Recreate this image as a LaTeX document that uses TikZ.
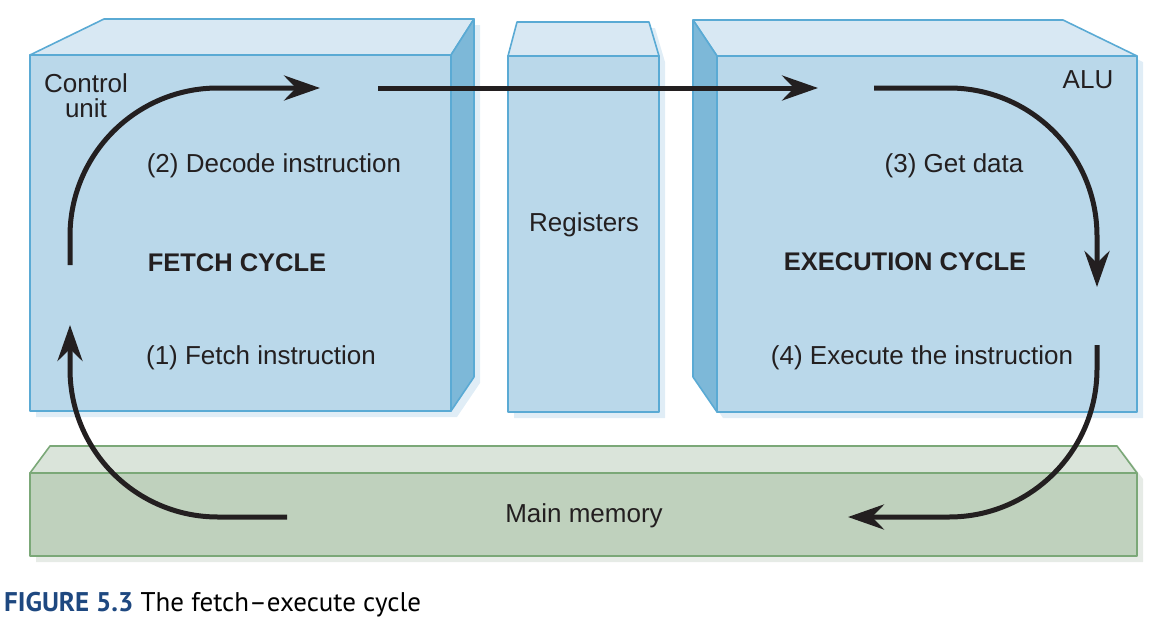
\documentclass[tikz,border=0pt]{standalone}
\usepackage{fontspec}
\setmainfont{Liberation Sans}
\newfontfamily\captionfont[Ligatures=TeX]{PT Sans}
\usetikzlibrary{arrows.meta}

\definecolor{boxfront}{RGB}{186,216,234}
\definecolor{boxtop}{RGB}{216,232,243}
\definecolor{boxside}{RGB}{125,184,216}
\definecolor{boxedge}{RGB}{90,170,212}
\definecolor{boxshade}{RGB}{224,237,246}
\definecolor{memfront}{RGB}{191,209,189}
\definecolor{memtop}{RGB}{218,228,218}
\definecolor{memedge}{RGB}{123,168,120}
\definecolor{memshade}{RGB}{230,235,230}
\definecolor{inkblack}{RGB}{35,31,32}
\definecolor{figblue}{RGB}{30,72,128}

\tikzset{
  face/.style={draw=boxedge, line width=1.6pt, line join=round},
  memface/.style={draw=memedge, line width=1.6pt, line join=round},
  boxtext/.style={text=inkblack, font=\fontsize{26}{30}\selectfont, align=center},
  cycletext/.style={boxtext, font=\fontsize{25.5}{30}\selectfont\bfseries},
  flow/.style={draw=inkblack, line width=5pt, rounded corners=148pt,
    -{Stealth[length=36pt, width=25pt, inset=12pt]}}
}

\begin{document}
\begin{tikzpicture}[x=1pt, y=-1pt]

    \useasboundingbox (0,0) rectangle (1170,632);

    % shadows
    \fill[boxshade, shift={(6,6)}] (30,55) -- (104,19) -- (474,19) -- (474,377) -- (451,411) -- (30,411) -- cycle;
    \fill[boxshade, shift={(6,6)}] (508,56) -- (517,22) -- (649,22) -- (659,56) -- (659,412) -- (508,412) -- cycle;
    \fill[boxshade, shift={(6,6)}] (693,20) -- (1063,20) -- (1137,56) -- (1137,412) -- (717,412) -- (693,377) -- cycle;
    \fill[memshade, shift={(6,6)}] (30,473) -- (50,446) -- (1117,446) -- (1137,473) -- (1137,556) -- (30,556) -- cycle;

    % control unit
    \draw[face, fill=boxfront] (30,55) rectangle (451,411);
    \draw[face, fill=boxtop] (30,55) -- (104,19) -- (474,19) -- (451,55) -- cycle;
    \draw[face, fill=boxside] (451,55) -- (474,19) -- (474,377) -- (451,411) -- cycle;

    % registers
    \draw[face, fill=boxfront] (508,56) rectangle (659,412);
    \draw[face, fill=boxtop] (508,56) -- (517,22) -- (649,22) -- (659,56) -- cycle;

    % alu
    \draw[face, fill=boxfront] (717,56) rectangle (1137,412);
    \draw[face, fill=boxtop] (717,56) -- (693,20) -- (1063,20) -- (1137,56) -- cycle;
    \draw[face, fill=boxside] (693,20) -- (717,56) -- (717,412) -- (693,377) -- cycle;

    % main memory
    \draw[memface, fill=memfront] (30,473) rectangle (1137,556);
    \draw[memface, fill=memtop] (30,473) -- (50,446) -- (1117,446) -- (1137,473) -- cycle;

    % texts
    \node[boxtext] (ctrl) at (86,96) {Control\\[-5pt]unit};
    \node[boxtext] (alu) at (1088,80) {ALU};
    \node[boxtext] (decode) at (274,166) {(2) Decode instruction};
    \node[cycletext] (fetchcyc) at (237,263) {FETCH CYCLE};
    \node[boxtext] (fetch) at (261,358) {(1) Fetch instruction};
    \node[boxtext] (regs) at (584,225) {Registers};
    \node[boxtext] (getdata) at (954,166) {(3) Get data};
    \node[cycletext] (execcyc) at (905,262) {EXECUTION CYCLE};
    \node[boxtext] (execute) at (922,358) {(4) Execute the instruction};
    \node[boxtext] (mem) at (584,516) {Main memory};

    \node[anchor=base west, inner sep=0pt, font=\captionfont\fontsize{27}{30}\selectfont]
      (caption) at (4,611) {\textcolor{figblue}{\bfseries FIGURE 5.3} The fetch--execute cycle};

    % cycle arrows
    \coordinate (fetchstart) at (70,265);
    \coordinate (fetchend) at (320,88);
    \coordinate (busstart) at (378,88);
    \coordinate (busend) at (818,88);
    \coordinate (datastart) at (874,88);
    \coordinate (dataend) at (1097,287);
    \coordinate (execstart) at (1097,345);
    \coordinate (execend) at (848,517);
    \coordinate (memstart) at (287,517);
    \coordinate (memend) at (70,325);

    \draw[flow] (fetchstart) |- (fetchend);
    \draw[flow] (busstart) -- (busend);
    \draw[flow] (datastart) -| (dataend);
    \draw[flow] (execstart) |- (execend);
    \draw[flow] (memstart) -| (memend);

\end{tikzpicture}
\end{document}
